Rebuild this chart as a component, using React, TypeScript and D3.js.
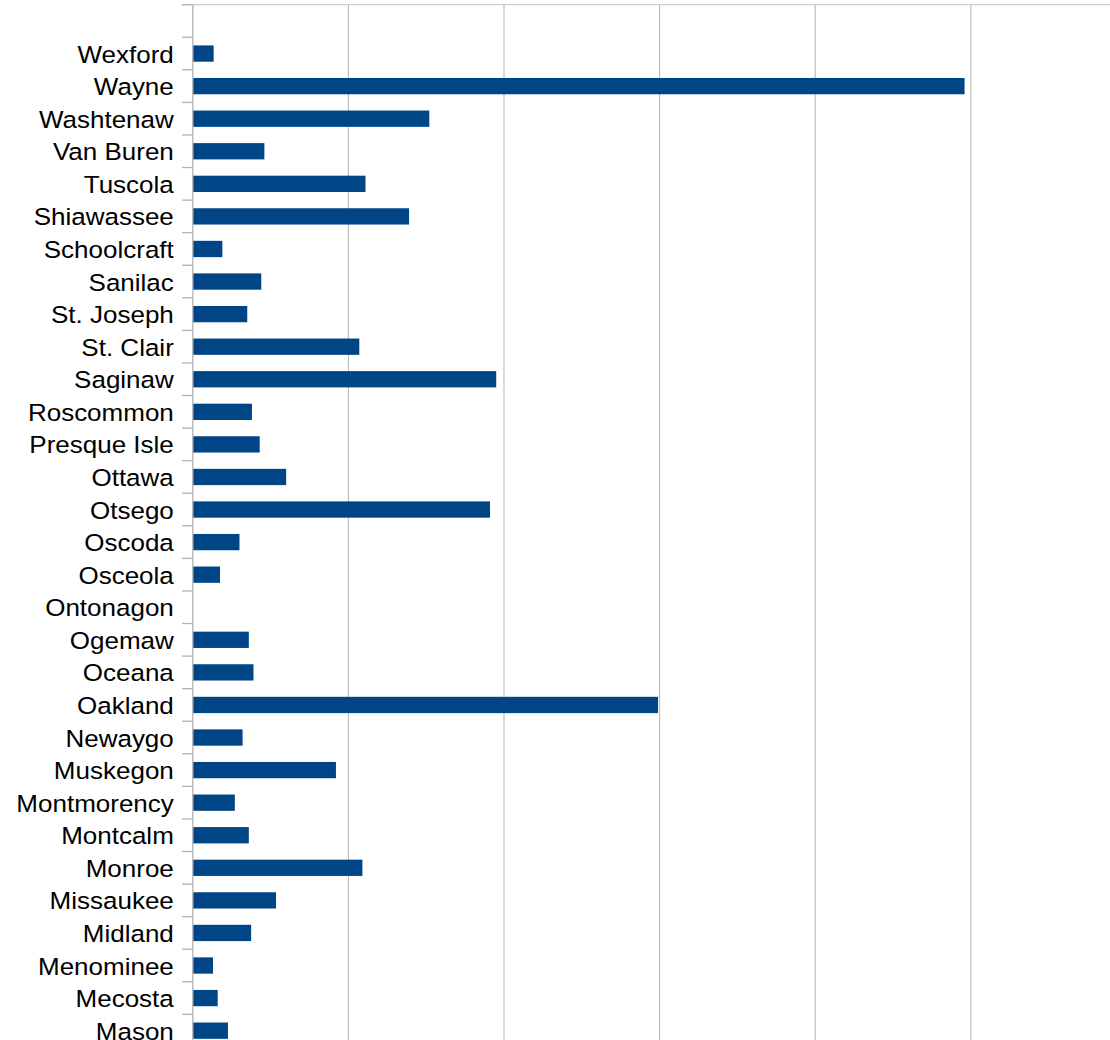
import React from "react";
import * as d3 from "d3";

const categories: string[] = [
  "", "Wexford", "Wayne", "Washtenaw", "Van Buren", "Tuscola", "Shiawassee",
  "Schoolcraft", "Sanilac", "St. Joseph", "St. Clair", "Saginaw", "Roscommon",
  "Presque Isle", "Ottawa", "Otsego", "Oscoda", "Osceola", "Ontonagon",
  "Ogemaw", "Oceana", "Oakland", "Newaygo", "Muskegon", "Montmorency",
  "Montcalm", "Monroe", "Missaukee", "Midland", "Menominee", "Mecosta", "Mason",
];

const values: number[] = [
  0, 1.34, 49.6, 15.2, 4.6, 11.1, 13.9,
  1.9, 4.4, 3.5, 10.7, 19.5, 3.8,
  4.3, 6.0, 19.1, 3.0, 1.75, 0,
  3.6, 3.9, 29.9, 3.2, 9.2, 2.7,
  3.6, 10.9, 5.35, 3.75, 1.3, 1.6, 2.26,
];

const xTicks: number[] = [0, 10, 20, 30, 40, 50, 60];

export default function App() {
  const W = 1110;
  const H = 1040;
  const left = 192.8;
  const top = 4.7;
  const step = 32.57;
  const bottom = top + step * categories.length;

  const x = d3.scaleLinear().domain([0, 10]).range([left, left + 155.6]);
  const y = d3
    .scaleBand<string>()
    .domain(categories)
    .range([top, bottom])
    .paddingInner(0.5)
    .paddingOuter(0.25);

  const grid = "#b3b3b3";
  const boundaries = d3.range(categories.length + 1).map((i) => top + i * y.step());

  return (
    <svg
      width={W}
      height={H}
      style={{ position: "absolute", left: 0, top: 0, background: "#fff" }}
      fontFamily="'Liberation Sans', Arial, sans-serif"
    >
      <rect x={0} y={0} width={W} height={H} fill="#fff" />
      <line x1={182} x2={W} y1={top} y2={top} stroke="#d0d0d0" strokeWidth={1.3} />
      {xTicks.slice(1).map((t) => (
        <line key={t} x1={x(t)} x2={x(t)} y1={top} y2={bottom} stroke={grid} strokeWidth={1} />
      ))}
      {categories.map((c, i) =>
        values[i] > 0 ? (
          <rect
            key={"b" + i}
            x={x(0)}
            y={y(c)!}
            width={x(values[i]) - x(0)}
            height={y.bandwidth()}
            fill="#004586"
          />
        ) : null
      )}
      <line x1={x(0)} x2={x(0)} y1={top} y2={bottom} stroke={grid} strokeWidth={1.3} />
      {boundaries.map((b, i) => (
        <line key={"t" + i} x1={182} x2={x(0)} y1={b} y2={b} stroke={grid} strokeWidth={1.3} />
      ))}
      {categories.map((c, i) => (
        <text
          key={"l" + i}
          transform={`translate(173.8, ${y(c)! + y.bandwidth() / 2}) scale(1.07, 1)`}
          dy="0.37em"
          textAnchor="end"
          fontSize={24.3}
          fill="#000"
        >
          {c}
        </text>
      ))}
    </svg>
  );
}
